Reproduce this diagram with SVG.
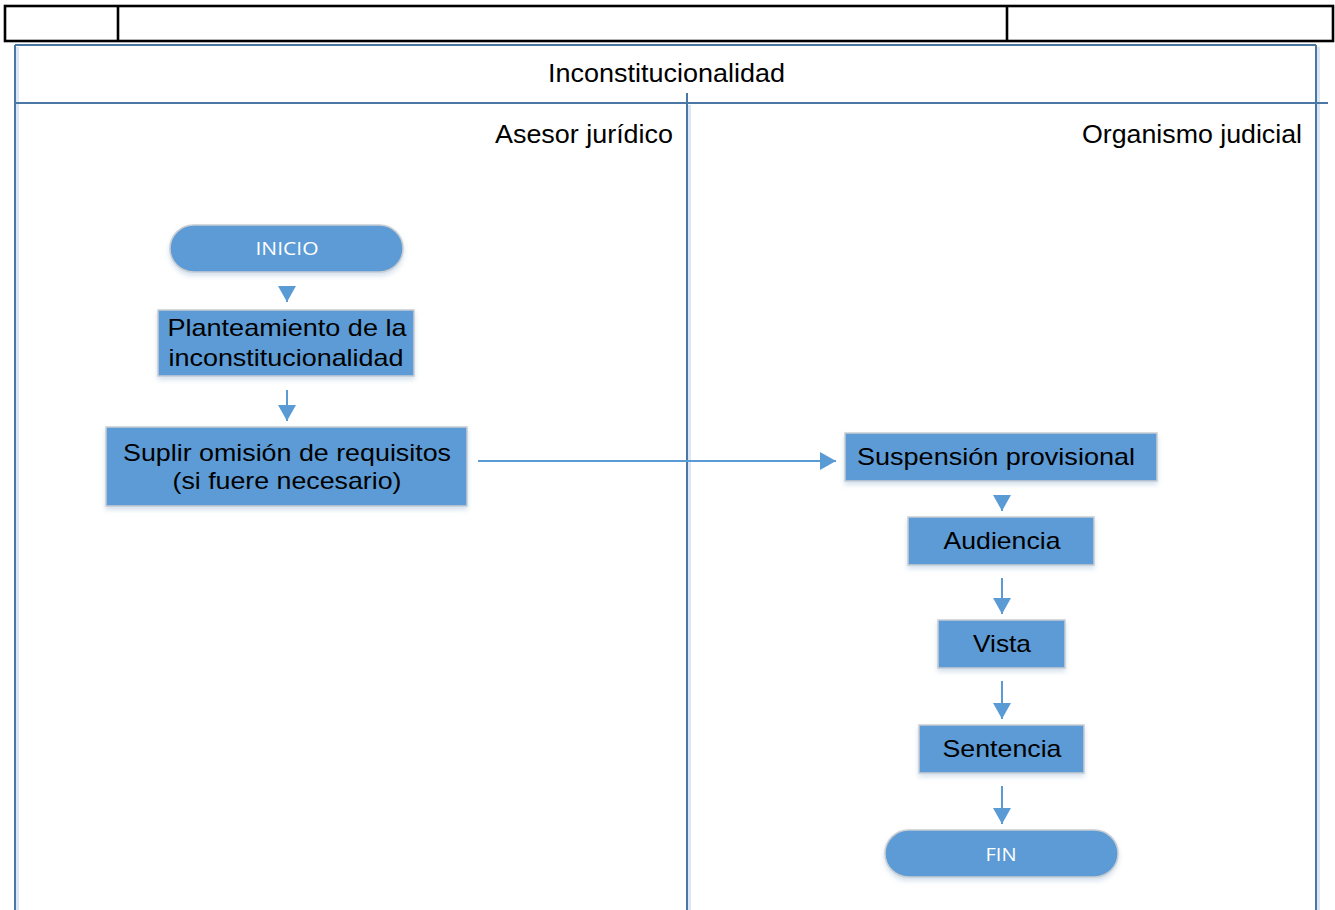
<svg xmlns="http://www.w3.org/2000/svg" width="1335" height="910" viewBox="0 0 1335 910">
  <style>
    .grid { fill: none; stroke: #000; stroke-width: 2.6; }
    .lane { fill: none; stroke: #4a77a3; stroke-width: 2; }
    .lane-glow { fill: none; stroke: #dbe7f4; stroke-width: 4; }
    .box { fill: #5b9bd5; stroke: #c9cdd2; stroke-width: 1.5; filter: url(#shadow); }
    .conn { fill: none; stroke: #5b9bd5; stroke-width: 2; marker-end: url(#arrow); }
    .label { font-family: "Liberation Sans", Arial, sans-serif; font-size: 24px; fill: #000; text-anchor: middle; }
    .head { font-family: "Liberation Sans", Arial, sans-serif; font-size: 25px; fill: #000; }
    .term { font-family: "Open Sans", "Liberation Sans", sans-serif; font-size: 18px; fill: #fff; text-anchor: middle; }
  </style>
  <defs>
    <marker id="arrow" viewBox="0 0 16 18" markerUnits="userSpaceOnUse" markerWidth="16" markerHeight="18" refX="16" refY="9" orient="auto">
      <path d="M0,0 L16,9 L0,18 z" fill="#5b9bd5"/>
    </marker>
    <filter id="shadow" x="-10%" y="-20%" width="120%" height="150%">
      <feDropShadow dx="0" dy="3" stdDeviation="2.5" flood-color="#9fbbd8" flood-opacity="0.45"/>
    </filter>
  </defs>

  <rect width="1335" height="910" fill="#fff"/>

  <!-- title block -->
  <g id="title-block">
    <rect class="grid" x="5" y="6" width="1328" height="35"/>
    <line class="grid" x1="118" y1="6" x2="118" y2="41"/>
    <line class="grid" x1="1007" y1="6" x2="1007" y2="41"/>
  </g>

  <!-- swimlane frame -->
  <g id="pool">
    <line class="lane-glow" x1="17" y1="47" x2="17" y2="910"/>
    <line class="lane-glow" x1="1318" y1="47" x2="1318" y2="910"/>
    <line class="lane-glow" x1="689" y1="105" x2="689" y2="910"/>
    <line class="lane" x1="15" y1="45" x2="1316" y2="45"/>
    <line class="lane" x1="15" y1="45" x2="15" y2="910"/>
    <line class="lane" x1="1316" y1="45" x2="1316" y2="910"/>
    <line class="lane" x1="15" y1="103" x2="1328" y2="103"/>
    <line class="lane" x1="687" y1="93" x2="687" y2="910"/>
    <text class="head" x="548" y="82" textLength="237" lengthAdjust="spacingAndGlyphs">Inconstitucionalidad</text>
    <text class="head" x="495" y="143" textLength="178" lengthAdjust="spacingAndGlyphs">Asesor jurídico</text>
    <text class="head" x="1082" y="143" textLength="220" lengthAdjust="spacingAndGlyphs">Organismo judicial</text>
  </g>

  <!-- connectors -->
  <g id="connectors">
    <path class="conn" d="M287,286 L287,302"/>
    <path class="conn" d="M287,390 L287,421"/>
    <path class="conn" d="M478,461 L836,461"/>
    <path class="conn" d="M1002,495 L1002,511"/>
    <path class="conn" d="M1002,578 L1002,614"/>
    <path class="conn" d="M1002,681 L1002,719"/>
    <path class="conn" d="M1002,786 L1002,824"/>
  </g>

  <g id="inicio">
    <rect class="box" x="170" y="225" width="233" height="47" rx="23.5"/>
    <text class="term" x="287" y="255" textLength="63" lengthAdjust="spacingAndGlyphs">INICIO</text>
  </g>

  <g id="planteamiento">
    <rect class="box" x="158" y="310" width="256" height="66"/>
    <text class="label" x="287" y="336" textLength="239" lengthAdjust="spacingAndGlyphs">Planteamiento de la</text>
    <text class="label" x="286" y="366" textLength="235" lengthAdjust="spacingAndGlyphs">inconstitucionalidad</text>
  </g>

  <g id="suplir">
    <rect class="box" x="106" y="427" width="361" height="79"/>
    <text class="label" x="287" y="461" textLength="328" lengthAdjust="spacingAndGlyphs">Suplir omisión de requisitos</text>
    <text class="label" x="287" y="489" textLength="229" lengthAdjust="spacingAndGlyphs">(si fuere necesario)</text>
  </g>

  <g id="suspension">
    <rect class="box" x="845" y="433" width="312" height="48"/>
    <text class="label" x="996" y="465" textLength="278" lengthAdjust="spacingAndGlyphs">Suspensión provisional</text>
  </g>

  <g id="audiencia">
    <rect class="box" x="908" y="517" width="186" height="48"/>
    <text class="label" x="1002" y="549" textLength="117" lengthAdjust="spacingAndGlyphs">Audiencia</text>
  </g>

  <g id="vista">
    <rect class="box" x="938" y="620" width="127" height="48"/>
    <text class="label" x="1002" y="652" textLength="58" lengthAdjust="spacingAndGlyphs">Vista</text>
  </g>

  <g id="sentencia">
    <rect class="box" x="919" y="725" width="165" height="48"/>
    <text class="label" x="1002" y="757" textLength="119" lengthAdjust="spacingAndGlyphs">Sentencia</text>
  </g>

  <g id="fin">
    <rect class="box" x="885" y="830" width="233" height="47" rx="23.5"/>
    <text class="term" x="1001" y="861" textLength="31" lengthAdjust="spacingAndGlyphs">FIN</text>
  </g>
</svg>
